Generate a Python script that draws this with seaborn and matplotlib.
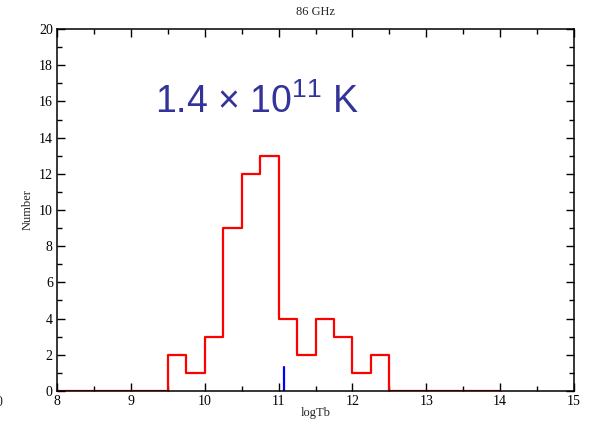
import numpy as np
import seaborn as sns
import matplotlib.pyplot as plt
from matplotlib.ticker import MultipleLocator

# histogram of log brightness temperature, 0.25 bins from 8 to 14
bin_edges = [8.0, 8.25, 8.5, 8.75, 9.0, 9.25, 9.5, 9.75, 10.0, 10.25, 10.5, 10.75,
             11.0, 11.25, 11.5, 11.75, 12.0, 12.25, 12.5, 12.75, 13.0, 13.25, 13.5,
             13.75, 14.0]
counts = [0, 0, 0, 0, 0, 0, 2, 1, 3, 9, 12, 13, 4, 2, 4, 3, 1, 2, 0, 0, 0, 0, 0, 0]
marker_x = [11.08, 11.08]
marker_y = [0, 1.3]

centers = [(a + b) / 2 for a, b in zip(bin_edges[:-1], bin_edges[1:])]

sns.set_style("ticks")
plt.rcParams["font.family"] = ["Liberation Serif", "DejaVu Serif"]
plt.rcParams["mathtext.fontset"] = "custom"
plt.rcParams["mathtext.rm"] = "Liberation Sans"
plt.rcParams["mathtext.it"] = "Liberation Sans"

fig = plt.figure(figsize=(5.9, 4.26), dpi=100)
ax = fig.add_axes([0.0966, 0.0822, 0.8763, 0.8497])

sns.histplot(x=centers, weights=counts, bins=bin_edges, element="step", fill=False,
             color="#ff0000", linewidth=1.6, ax=ax)
sns.lineplot(x=marker_x, y=marker_y, color="#0000ff", linewidth=1.6, ax=ax,
             estimator=None, sort=False)

ax.set_xlim(8, 15)
ax.set_ylim(0, 20)
ax.xaxis.set_major_locator(MultipleLocator(1))
ax.xaxis.set_minor_locator(MultipleLocator(0.5))
ax.yaxis.set_major_locator(MultipleLocator(2))
ax.yaxis.set_minor_locator(MultipleLocator(1))
ax.tick_params(which="both", direction="in", top=True, right=True,
               labelsize=10, width=1, colors="black", pad=3)
ax.tick_params(which="major", length=6)
ax.tick_params(which="minor", length=3.5)
for s in ax.spines.values():
    s.set_linewidth(1.1)
    s.set_color("black")

ax.set_title("86 GHz", fontsize=9, pad=10)
ax.set_xlabel("logTb", fontsize=9, labelpad=-1)
ax.set_ylabel("Number", fontsize=9, labelpad=4)

ax.text(9.33, 15.95, "1.4 \u00d7 10$^{11}$ K", fontsize=27, color="#333399",
        family="Liberation Sans", va="center", ha="left")

fig.text(0.006, 0.054, "10", fontsize=10, ha="right", va="center")

fig.savefig("out.png", dpi=100)
